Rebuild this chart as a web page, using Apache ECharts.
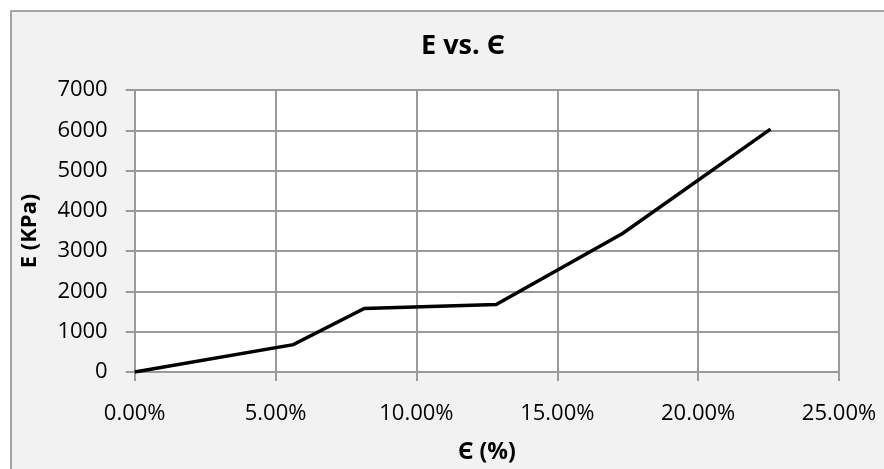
<!DOCTYPE html>
<html>
<head>
<meta charset="utf-8">
<script src="https://cdn.jsdelivr.net/npm/echarts@6/dist/echarts.min.js"></script>
<style>
  html, body { margin: 0; padding: 0; background: #ffffff; }
  #chart { width: 884px; height: 469px; }
</style>
</head>
<body>
<div id="chart"></div>
<script>
// Strain (%) and modulus E (kPa) readings
const strainPct = [0, 5.63, 8.15, 12.83, 17.33, 22.57];
const modulusKPa = [0, 680, 1575, 1675, 3445, 6030];
const xTicks = [0, 5, 10, 15, 20, 25];
const yTicks = [0, 1000, 2000, 3000, 4000, 5000, 6000, 7000];

const FONT = '"Open Sans", "Noto Sans", sans-serif';
const GRID_COLOR = '#9a9a9a';

const points = strainPct.map((x, i) => [x, modulusKPa[i]]);

const chart = echarts.init(document.getElementById('chart'), null, { renderer: 'canvas' });
chart.setOption({
  backgroundColor: '#ffffff',
  animation: false,
  graphic: [{
    type: 'rect',
    z: -10,
    shape: { x: 11, y: 11, width: 900, height: 500 },
    style: { fill: '#f2f2f2', stroke: '#8a8a8a', lineWidth: 1.5 }
  }],
  title: {
    text: 'E vs. Є',
    left: 458,
    top: 28,
    textAlign: 'center',
    textStyle: { fontFamily: FONT, fontWeight: 'bold', fontSize: 27, color: '#000' }
  },
  grid: {
    left: 134.7, right: 45, top: 90, bottom: 96.5,
    show: true, backgroundColor: '#ffffff', borderWidth: 0
  },
  xAxis: {
    type: 'value',
    min: xTicks[0],
    max: xTicks[xTicks.length - 1],
    interval: xTicks[1] - xTicks[0],
    name: 'Є (%)',
    nameLocation: 'middle',
    nameGap: 69,
    nameTextStyle: { fontFamily: FONT, fontWeight: 'bold', fontSize: 23, color: '#000' },
    axisLine: { show: true, onZero: false, lineStyle: { color: GRID_COLOR, width: 2 } },
    axisTick: { show: true, length: 9, lineStyle: { color: GRID_COLOR, width: 2 } },
    axisLabel: {
      margin: 31,
      fontFamily: FONT, fontSize: 22, color: '#000',
      formatter: v => v.toFixed(2) + '%'
    },
    splitLine: { show: true, lineStyle: { color: GRID_COLOR, width: 2 } }
  },
  yAxis: {
    type: 'value',
    min: yTicks[0],
    max: yTicks[yTicks.length - 1],
    interval: yTicks[1] - yTicks[0],
    name: 'E (KPa)',
    nameLocation: 'middle',
    nameGap: 94,
    nameTextStyle: { fontFamily: FONT, fontWeight: 'bold', fontSize: 22, color: '#000' },
    axisLine: { show: true, lineStyle: { color: GRID_COLOR, width: 2 } },
    axisTick: { show: true, length: 9, lineStyle: { color: GRID_COLOR, width: 2 } },
    axisLabel: {
      margin: 27, fontFamily: FONT, fontSize: 22, color: '#000',
      formatter: v => String(v)
    },
    splitLine: { show: true, lineStyle: { color: GRID_COLOR, width: 2 } }
  },
  series: [{
    type: 'line',
    data: points,
    showSymbol: false,
    symbol: 'none',
    lineStyle: { color: '#000000', width: 3.5, join: 'miter' },
    z: 5
  }]
});
</script>
</body>
</html>
